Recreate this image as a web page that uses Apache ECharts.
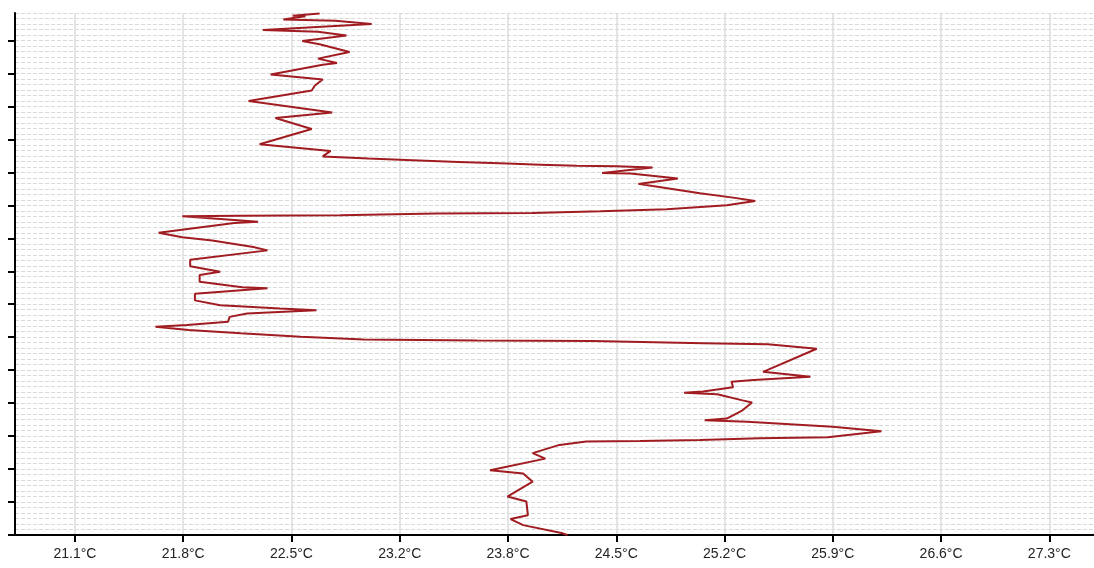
<!DOCTYPE html>
<html>
<head>
<meta charset="utf-8">
<script src="https://cdn.jsdelivr.net/npm/echarts@6/dist/echarts.min.js"></script>
<style>
  html, body { margin: 0; padding: 0; background: #ffffff; }
  #chart { width: 1094px; height: 568px; }
</style>
</head>
<body>
<div id="chart"></div>
<script>
// Temperature profile (°C), listed from the lowest level upward
const temps = [
  24.22, 24.19, 23.94, 23.86, 23.97, 23.96, 23.84, 24.00, 23.94, 23.73,
  24.08, 24.00, 24.17, 24.34, 24.68, 25.06, 25.44, 25.87, 26.21, 25.90,
  25.36, 25.09, 25.23, 25.33, 25.39, 25.33, 25.17, 24.96, 25.08, 25.27,
  25.26, 25.40, 25.76, 25.46, 25.80, 25.49, 25.08, 24.38, 23.65, 22.93,
  22.53, 22.15, 21.82, 21.61, 21.81, 22.07, 22.08, 22.19, 22.63, 22.40,
  22.02, 21.86, 21.86, 22.32, 22.16, 21.89, 21.89, 22.02, 21.83, 21.83,
  22.32, 22.23, 21.97, 21.78, 21.63, 22.11, 22.26, 22.02, 21.78, 22.15,
  22.78, 23.39, 24.00, 24.43, 24.85, 25.23, 25.41, 25.27, 25.06, 24.76,
  24.67, 24.92, 24.62, 24.44, 24.76, 24.53, 24.28, 24.05, 23.84, 23.53,
  23.24, 22.96, 22.67, 22.72, 22.27, 22.60, 22.37, 22.73, 22.20, 22.60,
  22.62, 22.67, 22.34, 22.67, 22.76, 22.64, 22.84, 22.65, 22.54, 22.82,
  22.64, 22.29, 22.98, 22.75, 22.42, 22.56, 22.48, 22.65
];

// Level of each reading (grid units, 0 at the bottom axis)
const levels = [
  0, 0.3, 1.8, 2.9, 3.6, 6.1, 7.0, 9.7, 11.2, 11.8,
  13.9, 14.9, 16.4, 17.0, 17.1, 17.3, 17.6, 17.8, 18.9, 19.7,
  20.6, 20.9, 21.2, 22.7, 24.1, 24.5, 25.6, 25.9, 26.1, 26.9,
  27.9, 28.2, 28.8, 29.7, 33.9, 34.7, 34.9, 35.3, 35.4, 35.6,
  36.1, 36.7, 37.3, 37.9, 38.2, 38.8, 39.7, 40.3, 40.9, 41.2,
  41.8, 42.7, 43.9, 44.9, 45.1, 46.1, 47.3, 47.9, 48.9, 50.1,
  51.8, 52.4, 53.6, 54.2, 55.0, 56.8, 57.0, 57.5, 58.0, 58.1,
  58.2, 58.5, 58.6, 58.9, 59.3, 60.0, 60.8, 61.4, 62.2, 63.5,
  63.9, 64.9, 65.8, 65.9, 66.9, 67.1, 67.2, 67.4, 67.6, 67.9,
  68.2, 68.5, 68.9, 69.9, 71.1, 73.9, 75.9, 76.9, 79.0, 80.9,
  81.8, 82.9, 83.8, 85.6, 85.9, 86.7, 87.9, 89.3, 89.9, 90.9,
  91.6, 91.9, 93.0, 93.6, 93.8, 94.4, 94.5, 94.9
];

// Temperature axis tick positions (labels shown to one decimal)
const tempTicks = [21.1, 21.786, 22.472, 23.158, 23.844, 24.53, 25.216, 25.902, 26.588, 27.274];
// Major level ticks on the left axis
const levelTicks = [0, 6, 12, 18, 24, 30, 36, 42, 48, 54, 60, 66, 72, 78, 84, 90];

const tempMin = 20.72;
const tempMax = 27.557;
const levelMin = 0;
const levelMax = 95;

const points = temps.map((t, i) => [t, levels[i]]);

const chart = echarts.init(document.getElementById('chart'), null, { renderer: 'canvas' });

chart.setOption({
  animation: false,
  backgroundColor: '#ffffff',
  grid: { left: 15, right: 0, top: 13, bottom: 33, containLabel: false },
  xAxis: {
    type: 'value',
    min: tempMin,
    max: tempMax,
    axisLine: { show: true, onZero: false, lineStyle: { color: '#000000', width: 2 } },
    axisTick: {
      show: true,
      customValues: tempTicks,
      length: 7,
      lineStyle: { color: '#000000', width: 2 }
    },
    axisLabel: {
      show: true,
      customValues: tempTicks,
      formatter: v => v.toFixed(1) + '°C',
      color: '#222222',
      fontFamily: 'Liberation Sans, Arial, sans-serif',
      fontSize: 14,
      margin: 12
    },
    splitLine: { show: true, lineStyle: { color: '#dcdcdc', width: 1.5 } }
  },
  yAxis: [
    {
      // fine dashed level grid
      type: 'value',
      position: 'left',
      min: levelMin,
      max: levelMax,
      interval: 1,
      axisLine: { show: false },
      axisTick: { show: false },
      axisLabel: { show: false },
      splitLine: { show: true, lineStyle: { color: '#d9d9d9', width: 1, type: [4, 2] } }
    },
    {
      // left axis with major ticks, no labels
      type: 'value',
      position: 'left',
      min: levelMin,
      max: levelMax,
      interval: 6,
      axisLine: { show: true, onZero: false, lineStyle: { color: '#000000', width: 2 } },
      axisTick: {
        show: true,
        customValues: levelTicks,
        length: 7,
        lineStyle: { color: '#000000', width: 2 }
      },
      axisLabel: { show: false },
      splitLine: { show: false }
    }
  ],
  series: [
    {
      type: 'line',
      xAxisIndex: 0,
      yAxisIndex: 0,
      data: points,
      showSymbol: false,
      symbol: 'none',
      smooth: false,
      lineStyle: { color: '#a01c20', width: 2 },
      z: 5
    }
  ]
});
</script>
</body>
</html>
